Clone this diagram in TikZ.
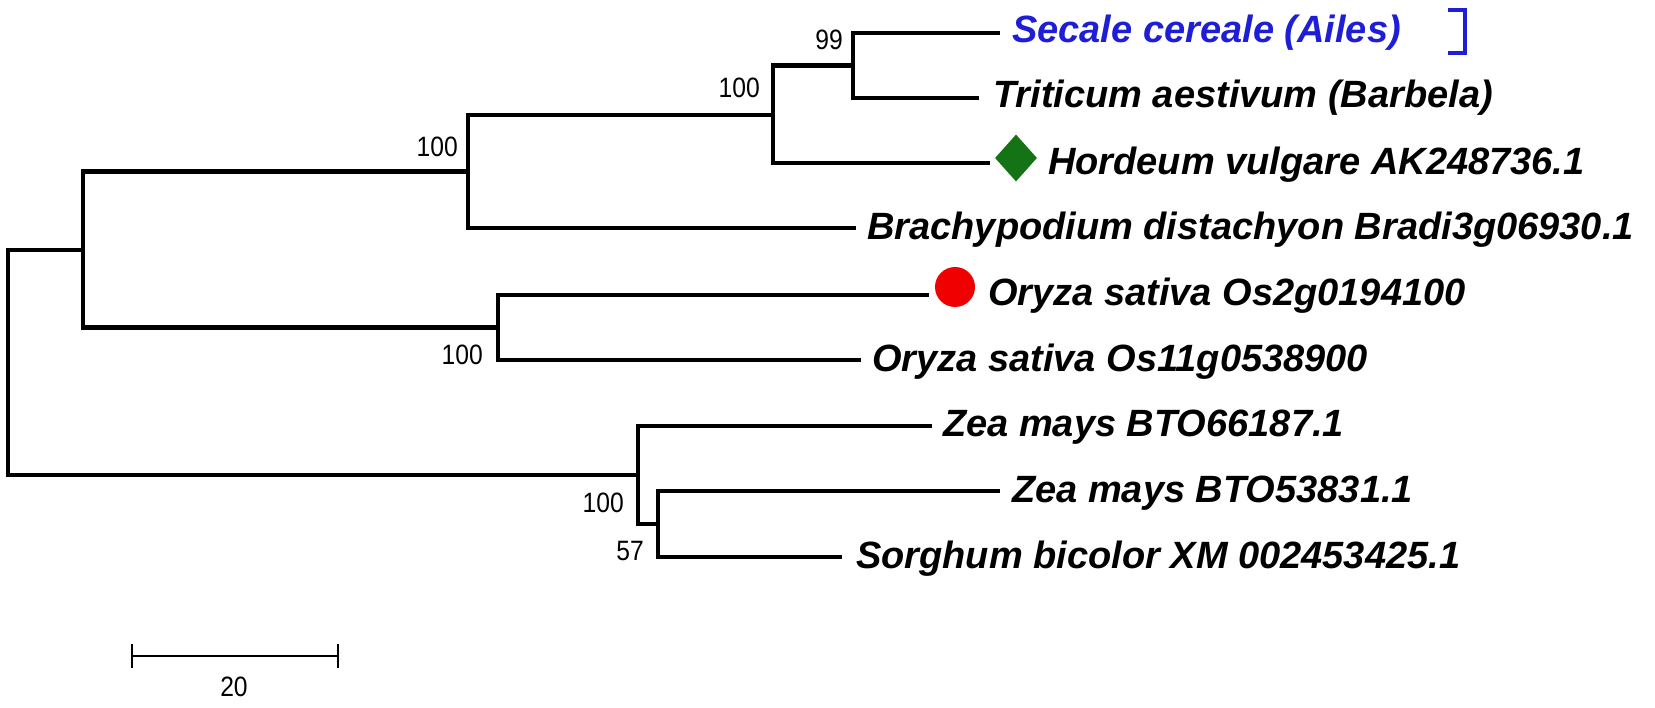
\documentclass[tikz,border=0pt]{standalone}
\usepackage{fontspec}
\setmainfont{Liberation Sans}
\newfontfamily\bsfont[FakeStretch=0.88]{Liberation Sans}
\usetikzlibrary{shapes.geometric}
\definecolor{mkgreen}{RGB}{20,115,20}
\definecolor{mkred}{RGB}{240,0,0}
\definecolor{mkblue}{RGB}{30,30,215}
\tikzset{
  branch/.style={line width=4.8pt, line join=miter, line cap=rect},
  leaflabel/.style={anchor=base west, inner sep=0pt, font=\fontsize{38}{40}\selectfont\bfseries\itshape},
  bslabel/.style={inner sep=0pt, font=\fontsize{28}{30}\selectfont\bsfont},
  scalebar/.style={line width=2pt},
}
\begin{document}
\begin{tikzpicture}[x=1pt,y=-1pt]
\useasboundingbox (0,0) rectangle (1655,708);
% internal nodes
\coordinate (root) at (8,362.5);
\coordinate (A) at (83,250);
\coordinate (B) at (468,171.5);
\coordinate (C) at (773,115);
\coordinate (N99) at (853,65.5);
\coordinate (D) at (498,327.5);
\coordinate (E) at (638,475);
\coordinate (F) at (658,524);
% leaf ends
\coordinate (l1) at (998,33);
\coordinate (l2) at (977,98);
\coordinate (l3) at (988,163);
\coordinate (l4) at (854,228);
\coordinate (l5) at (927,295);
\coordinate (l6) at (859,360);
\coordinate (l7) at (930,426);
\coordinate (l8) at (998,491);
\coordinate (l9) at (840,557);
% branches
\draw[branch] (root) |- (A);
\draw[branch] (root) |- (E);
\draw[branch] (A) |- (B);
\draw[branch] (A) |- (D);
\draw[branch] (B) |- (C);
\draw[branch] (B) |- (l4);
\draw[branch] (C) |- (N99);
\draw[branch] (C) |- (l3);
\draw[branch] (N99) |- (l1);
\draw[branch] (N99) |- (l2);
\draw[branch] (D) |- (l5);
\draw[branch] (D) |- (l6);
\draw[branch] (E) |- (l7);
\draw[branch] (E) |- (F);
\draw[branch] (F) |- (l8);
\draw[branch] (F) |- (l9);
% markers
\node[diamond, fill=mkgreen, minimum width=42pt, minimum height=47pt, inner sep=0pt] (dia) at (1016,158) {};
\node[circle, fill=mkred, minimum size=40pt, inner sep=0pt] (dot) at (955,287) {};
% leaf labels
\node[leaflabel, text=mkblue] (t1) at (1012,43) {Secale cereale (Ailes)};
\node[leaflabel] (t2) at (993,108) {Triticum aestivum (Barbela)};
\node[leaflabel] (t3) at (1048,175) {Hordeum vulgare AK248736.1};
\node[leaflabel] (t4) at (867,240) {Brachypodium distachyon Bradi3g06930.1};
\node[leaflabel] (t5) at (988,306) {Oryza sativa Os2g0194100};
\node[leaflabel] (t6) at (872,372) {Oryza sativa Os11g0538900};
\node[leaflabel] (t7) at (943,437) {Zea mays BTO66187.1};
\node[leaflabel] (t8) at (1012,502) {Zea mays BTO53831.1};
\node[leaflabel] (t9) at (856,568) {Sorghum bicolor XM 002453425.1};
% bracket
\draw[mkblue, line width=4pt, line join=miter] (1448,10) -- (1465,10) -- (1465,53) -- (1448,53);
% bootstrap values
\node[bslabel, anchor=east] (b99) at (843,40) {99};
\node[bslabel, anchor=east] (bC) at (760,88) {100};
\node[bslabel, anchor=east] (bB) at (458,147) {100};
\node[bslabel, anchor=east] (bD) at (483,355) {100};
\node[bslabel, anchor=east] (bE) at (624,503) {100};
\node[bslabel, anchor=east] (bF) at (644,551) {57};
% scale bar
\coordinate (s1) at (132,656);
\coordinate (s2) at (338,656);
\draw[scalebar] (s1) -- (s2);
\draw[scalebar] ([yshift=-12pt]s1) -- ([yshift=12pt]s1);
\draw[scalebar] ([yshift=-12pt]s2) -- ([yshift=12pt]s2);
\node[bslabel] (s20) at (234,687) {20};
\end{tikzpicture}
\end{document}
